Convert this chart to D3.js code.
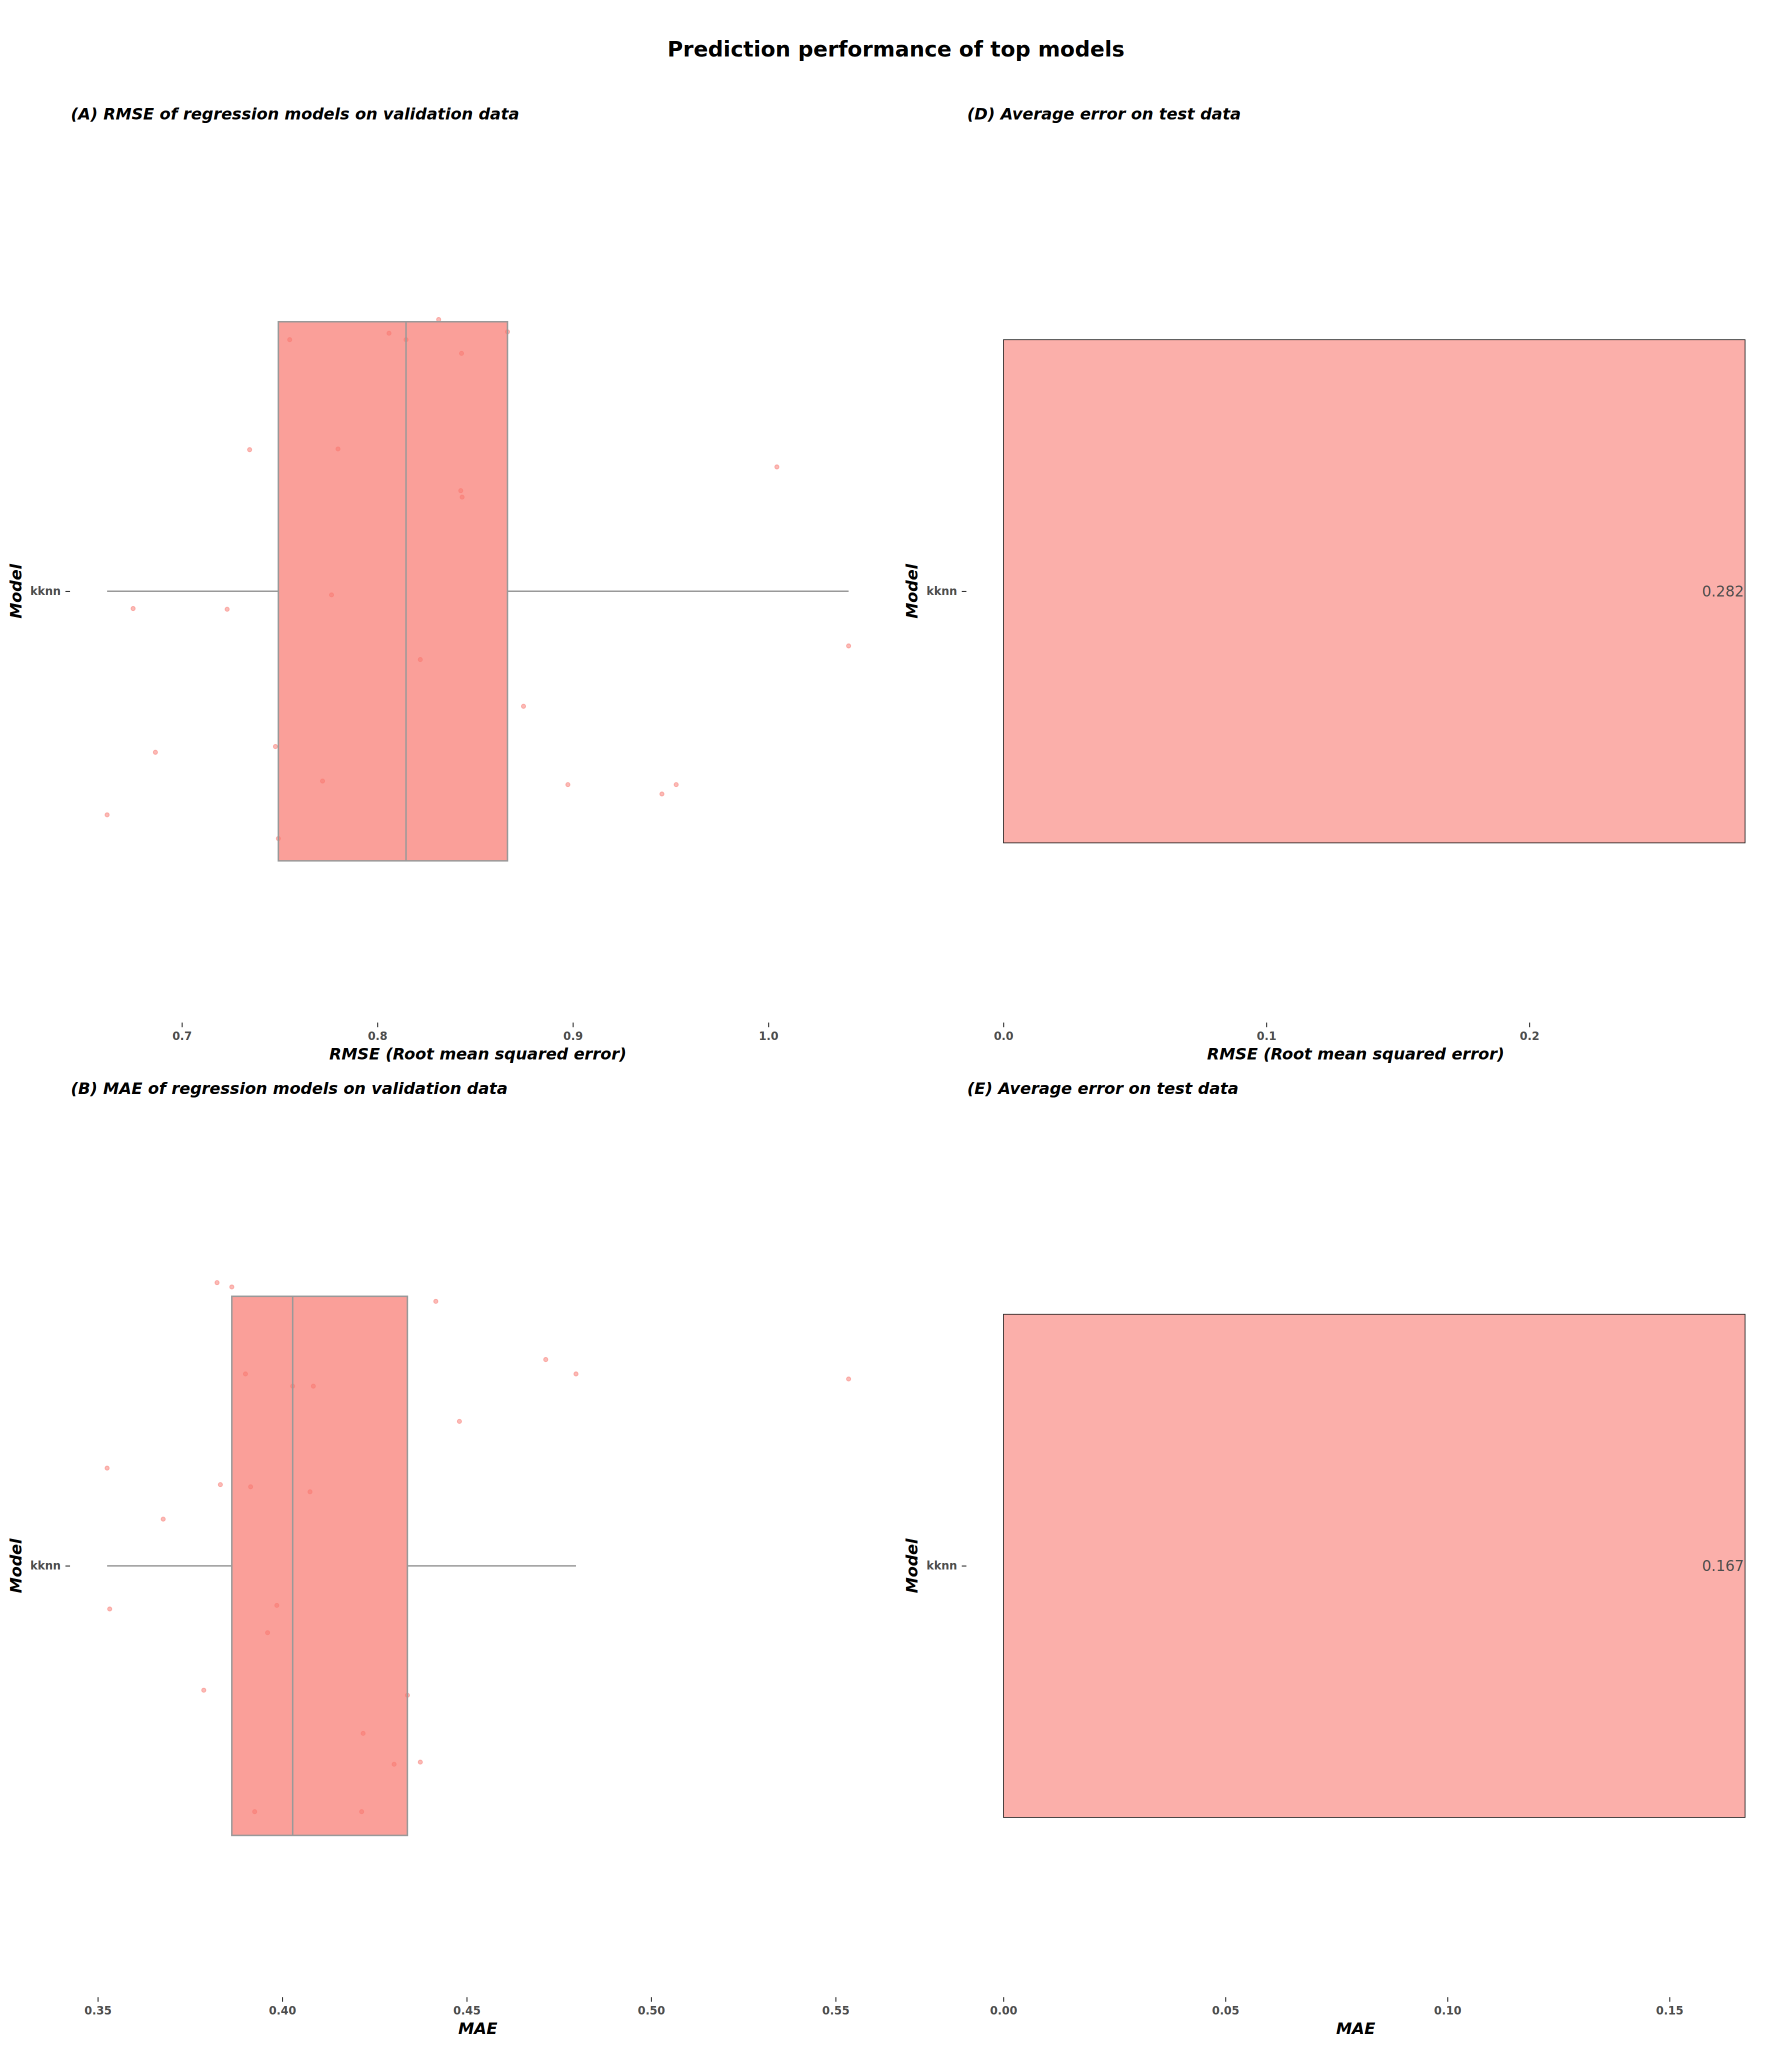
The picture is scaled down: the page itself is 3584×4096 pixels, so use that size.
<!DOCTYPE html>
<html>
<head>
<meta charset="utf-8">
<script src="https://cdn.jsdelivr.net/npm/d3@7"></script>
<style>
  html, body { margin: 0; padding: 0; background: #ffffff; }
  svg { display: block; }
  text { font-family: "DejaVu Sans", sans-serif; }
</style>
</head>
<body>
<svg id="chart"></svg>
<script>
// ---------------- data ----------------
const models = ["kknn"];

// validation RMSE per resample (panel A) and its vertical jitter (category units)
const rmseValues = [0.8313, 0.8665, 0.7551, 0.8059, 0.8430, 0.7346, 0.7798, 1.0043, 0.8426, 0.8433,
                    0.6750, 0.7231, 0.7765, 1.0410, 0.8219, 0.8747, 0.6864, 0.7478, 0.7719, 0.8974,
                    0.9528, 0.9455, 0.6617, 0.7493, 0.8146];
const rmseJitter = [0.378, 0.361, 0.350, 0.359, 0.331, 0.197, 0.198, 0.173, 0.140, 0.131,
                    -0.024, -0.025, -0.005, -0.076, -0.095, -0.160, -0.224, -0.216, -0.264, -0.269,
                    -0.269, -0.282, -0.311, -0.344, 0.350];

// validation MAE per resample (panel B) and its vertical jitter
const maeValues = [0.3823, 0.3863, 0.4416, 0.4714, 0.4796, 0.5535, 0.3900, 0.4028, 0.4084, 0.4480,
                   0.3525, 0.3832, 0.3914, 0.4075, 0.3677, 0.3532, 0.3985, 0.3960, 0.3787, 0.4339,
                   0.4219, 0.4303, 0.4374, 0.3925, 0.4215];
const maeJitter = [0.394, 0.388, 0.368, 0.287, 0.267, 0.260, 0.267, 0.250, 0.250, 0.201,
                   0.136, 0.113, 0.110, 0.103, 0.065, -0.060, -0.055, -0.093, -0.173, -0.180,
                   -0.233, -0.276, -0.273, -0.342, -0.342];

// test-set errors (panels D and E)
const testRmse = [0.282];
const testMae = [0.167];

// tick labels
const ticksA = [0.7, 0.8, 0.9, 1.0];
const ticksB = [0.35, 0.40, 0.45, 0.50, 0.55];
const ticksD = [0.0, 0.1, 0.2];
const ticksE = [0.00, 0.05, 0.10, 0.15];

// ---------------- layout (reference pixel units, scaled by viewBox) ----------------
const W = 5040, H = 5760;
const svg = d3.select("#chart")
  .attr("width", 3584).attr("height", 4096)
  .attr("viewBox", `0 0 ${W} ${H}`);

const FONT_TITLE = 60, FONT_SUB = 45, FONT_TICK = 31.25, FONT_LABEL = 41.3;
const BASE = "#F8766D";

svg.append("text")
  .attr("x", 2520).attr("y", 159)
  .attr("text-anchor", "middle")
  .attr("font-size", FONT_TITLE).attr("font-weight", "bold")
  .attr("fill", "#000")
  .text("Prediction performance of top models");

const ROW_OFF = 2741;
const rowTop = 450, rowBottom = 2876;

function frame(left, right, row, subtitle, xTitle, ticks, fmt) {
  const top = rowTop + row * ROW_OFF, bottom = rowBottom + row * ROW_OFF;
  const g = svg.append("g");
  g.append("text")
    .attr("x", left + 2).attr("y", top - 114)
    .attr("font-size", FONT_SUB).attr("font-weight", "bold").attr("font-style", "italic")
    .attr("fill", "#000").text(subtitle);
  const yUnit = d3.scaleLinear().domain([0.4, 1.6]).range([bottom, top]);
  const yCat = d3.scalePoint().domain(models).range([bottom, top]).padding(0.5);
  return { g, top, bottom, yUnit, yCat, left, right, xTitle, ticks, fmt };
}

function drawAxes(f, x) {
  const { g, top, bottom, yCat, left, right, xTitle, ticks, fmt } = f;
  const ax = g.append("g").attr("transform", `translate(0,${bottom})`)
    .call(d3.axisBottom(x).tickValues(ticks).tickFormat(d3.format(fmt)).tickSize(13).tickPadding(14));
  ax.select(".domain").remove();
  ax.selectAll(".tick line").attr("stroke", "#333333").attr("stroke-width", 3);
  ax.selectAll(".tick text").attr("font-size", FONT_TICK).attr("font-weight", "bold")
    .attr("fill", "#4D4D4D").attr("font-family", "DejaVu Sans");

  const ay = g.append("g").attr("transform", `translate(${left},0)`)
    .call(d3.axisLeft(yCat).tickSize(13).tickPadding(13));
  ay.select(".domain").remove();
  ay.selectAll(".tick line").attr("stroke", "#333333").attr("stroke-width", 3);
  ay.selectAll(".tick text").attr("font-size", FONT_TICK).attr("font-weight", "bold")
    .attr("fill", "#4D4D4D").attr("font-family", "DejaVu Sans");

  g.append("text")
    .attr("x", (left + right) / 2).attr("y", bottom + 104)
    .attr("text-anchor", "middle")
    .attr("font-size", FONT_SUB).attr("font-weight", "bold").attr("font-style", "italic")
    .attr("fill", "#000").text(xTitle);

  g.append("text")
    .attr("transform", `translate(${left - 137},${(top + bottom) / 2}) rotate(-90)`)
    .attr("text-anchor", "middle")
    .attr("font-size", FONT_SUB).attr("font-weight", "bold").attr("font-style", "italic")
    .attr("fill", "#000").text("Model");
}

function boxPanel(f, values, jitter) {
  const { g, yUnit, left, right } = f;
  const ext = d3.extent(values);
  const pad = 0.05 * (ext[1] - ext[0]);
  const x = d3.scaleLinear().domain([ext[0] - pad, ext[1] + pad]).range([left, right]);
  const sorted = values.slice().sort(d3.ascending);
  const q1 = d3.quantile(sorted, 0.25), med = d3.quantile(sorted, 0.5), q3 = d3.quantile(sorted, 0.75);
  const iqr = q3 - q1;
  const lo = d3.min(sorted.filter(v => v >= q1 - 1.5 * iqr));
  const hi = d3.max(sorted.filter(v => v <= q3 + 1.5 * iqr));
  const cy = yUnit(1);

  // jittered points (beneath the semi-transparent box)
  g.append("g").selectAll("circle").data(values.map((v, i) => ({ v, j: jitter[i] })))
    .join("circle")
    .attr("cx", d => x(d.v)).attr("cy", d => yUnit(1 + d.j))
    .attr("r", 5.8)
    .attr("fill", BASE).attr("fill-opacity", 0.5)
    .attr("stroke", BASE).attr("stroke-opacity", 0.5).attr("stroke-width", 2.6);

  const wg = g.append("g").attr("stroke", "#999999").attr("stroke-width", 4.2);
  wg.append("line").attr("x1", x(lo)).attr("x2", x(q1)).attr("y1", cy).attr("y2", cy);
  wg.append("line").attr("x1", x(q3)).attr("x2", x(hi)).attr("y1", cy).attr("y2", cy);

  const y0 = yUnit(1 + 0.375), y1 = yUnit(1 - 0.375);
  g.append("rect")
    .attr("x", x(q1)).attr("y", y0).attr("width", x(q3) - x(q1)).attr("height", y1 - y0)
    .attr("fill", BASE).attr("fill-opacity", 0.7)
    .attr("stroke", "#999999").attr("stroke-width", 4.2);
  g.append("line")
    .attr("x1", x(med)).attr("x2", x(med)).attr("y1", y0).attr("y2", y1)
    .attr("stroke", "#999999").attr("stroke-width", 4.2);
  return x;
}

function barPanel(f, vals) {
  const { g, yUnit, left, right } = f;
  const maxV = d3.max(vals);
  const x = d3.scaleLinear().domain([-0.05 * maxV, maxV]).range([left, right]);
  const data = vals.map((v, i) => ({ v, m: models[i] }));
  g.append("g").selectAll("rect").data(data).join("rect")
    .attr("x", x(0)).attr("y", yUnit(1 + 0.35))
    .attr("width", d => x(d.v) - x(0)).attr("height", yUnit(1 - 0.35) - yUnit(1 + 0.35))
    .attr("fill", BASE).attr("fill-opacity", 0.58)
    .attr("stroke", "#1a1a1a").attr("stroke-width", 2.2);
  g.append("g").selectAll("text").data(data).join("text")
    .attr("x", d => x(d.v) - 3).attr("y", yUnit(1)).attr("dy", "0.35em")
    .attr("text-anchor", "end").attr("font-size", FONT_LABEL).attr("fill", "#4D4D4D")
    .text(d => d3.format(".3f")(d.v));
  return x;
}

const fA = frame(197, 2491, 0, "(A) RMSE of regression models on validation data",
                 "RMSE (Root mean squared error)", ticksA, ".1f");
const xA = boxPanel(fA, rmseValues, rmseJitter);
drawAxes(fA, xA);

const fD = frame(2718, 4908, 0, "(D) Average error on test data",
                 "RMSE (Root mean squared error)", ticksD, ".1f");
const xD = barPanel(fD, testRmse);
drawAxes(fD, xD);

const fB = frame(197, 2491, 1, "(B) MAE of regression models on validation data",
                 "MAE", ticksB, ".2f");
const xB = boxPanel(fB, maeValues, maeJitter);
drawAxes(fB, xB);

const fE = frame(2718, 4908, 1, "(E) Average error on test data",
                 "MAE", ticksE, ".2f");
const xE = barPanel(fE, testMae);
drawAxes(fE, xE);
</script>
</body>
</html>
